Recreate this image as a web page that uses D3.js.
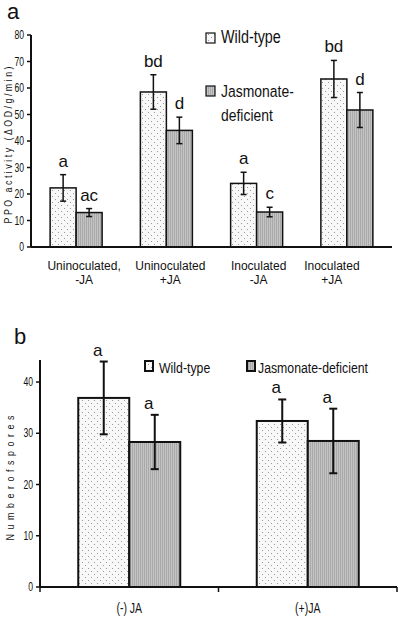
<!DOCTYPE html>
<html><head><meta charset="utf-8">
<script src="https://cdn.jsdelivr.net/npm/d3@7"></script>
<style>
html,body{margin:0;padding:0;background:#fff;}
svg{display:block;font-family:"Liberation Sans",Arial,sans-serif;}
</style></head>
<body>
<script>
// ---- Data: panel a ----
const categoriesA = [["Uninoculated,","-JA"],["Uninoculated","+JA"],["Inoculated","-JA"],["Inoculated","+JA"]];
const seriesNames = ["Wild-type","Jasmonate-deficient"];
const wildTypeA = [22.3, 58.5, 24.0, 63.4];
const wildTypeErrA = [5.0, 6.5, 4.2, 7.0];
const jasmonateA = [13.0, 44.0, 13.2, 51.7];
const jasmonateErrA = [1.5, 5.0, 1.8, 6.6];
const lettersWildA = ["a","bd","a","bd"];
const lettersJasA = ["ac","d","c","d"];
const ticksA = [0,10,20,30,40,50,60,70,80];

// ---- Data: panel b ----
const categoriesB = ["(-) JA","(+)JA"];
const wildTypeB = [36.9, 32.4];
const wildTypeErrB = [7.1, 4.2];
const jasmonateB = [28.3, 28.5];
const jasmonateErrB = [5.3, 6.3];
const lettersWildB = ["a","a"];
const lettersJasB = ["a","a"];
const ticksB = [0,10,20,30,40];

const W = 400, H = 620;
const svg = d3.select("body").append("svg").attr("width", W).attr("height", H);

// patterns
const defs = svg.append("defs");
const pDot = defs.append("pattern").attr("id","dots").attr("patternUnits","userSpaceOnUse")
  .attr("width",6).attr("height",6);
pDot.append("rect").attr("width",6).attr("height",6).attr("fill","#f8f8f8");
pDot.append("rect").attr("x",1).attr("y",1).attr("width",1).attr("height",1).attr("fill","#999");
pDot.append("rect").attr("x",4).attr("y",4).attr("width",1).attr("height",1).attr("fill","#999");
const pLine = defs.append("pattern").attr("id","lines").attr("patternUnits","userSpaceOnUse")
  .attr("width",2).attr("height",4);
pLine.append("rect").attr("width",2).attr("height",4).attr("fill","#c4c4c4");
pLine.append("rect").attr("x",0).attr("width",1).attr("height",4).attr("fill","#a9a9a9");

const fills = ["url(#dots)","url(#lines)"];

function narrowText(g, x, y, txt, size, sx, anchor){
  return g.append("text").attr("transform",`translate(${x},${y}) scale(${sx},1)`)
    .attr("font-size",size).attr("text-anchor",anchor||"start").attr("fill","#111").text(txt);
}

function panel(opts){
  const g = svg.append("g");
  const y = d3.scaleLinear().domain(opts.yDomain).range(opts.yRange);
  const x = d3.scaleBand().domain(d3.range(opts.n)).range(opts.xRange).paddingInner(0).paddingOuter(0);
  const bw = opts.barW;
  const series = [
    {vals: opts.wt, errs: opts.wtErr, letters: opts.lw, fill: fills[0], off: -bw},
    {vals: opts.jd, errs: opts.jdErr, letters: opts.lj, fill: fills[1], off: 0}
  ];
  // bars
  series.forEach(s=>{
    g.selectAll(null).data(s.vals).enter().append("rect")
      .attr("x",(d,i)=>x(i)+x.bandwidth()/2 + s.off)
      .attr("y",d=>y(d)).attr("width",bw).attr("height",d=>y(0)-y(d))
      .attr("fill",s.fill).attr("stroke","#111").attr("stroke-width",opts.barStroke);
  });
  // error bars
  series.forEach(s=>{
    s.vals.forEach((v,i)=>{
      const cx = x(i)+x.bandwidth()/2 + s.off + bw/2;
      const y1 = y(v + s.errs[i]), y2 = y(v - s.errs[i]);
      g.append("line").attr("x1",cx).attr("x2",cx).attr("y1",y1).attr("y2",y2)
        .attr("stroke","#111").attr("stroke-width",opts.errStroke);
      [y1,y2].forEach(yy=>g.append("line").attr("x1",cx-opts.cap).attr("x2",cx+opts.cap)
        .attr("y1",yy).attr("y2",yy).attr("stroke","#111").attr("stroke-width",opts.errStroke));
      g.append("text").attr("x",cx + opts.letterDx).attr("y",y1 - opts.letterGap)
        .attr("text-anchor","middle").attr("font-size",opts.letterSize).attr("fill","#111")
        .text(s.letters[i]);
    });
  });
  // y axis
  g.append("line").attr("x1",opts.xRange[0]).attr("x2",opts.xRange[0])
    .attr("y1",y(opts.yDomain[1])).attr("y2",y(0)).attr("stroke","#111").attr("stroke-width",2);
  opts.ticks.forEach(t=>{
    g.append("line").attr("x1",opts.xRange[0]-4).attr("x2",opts.xRange[0]).attr("y1",y(t)).attr("y2",y(t))
      .attr("stroke","#111").attr("stroke-width",1.5);
    narrowText(g, opts.xRange[0]-7, y(t)+4, String(t), 12, 0.72, "end");
  });
  // x axis
  g.append("line").attr("x1",opts.xRange[0]).attr("x2",opts.xRange[1]).attr("y1",y(0)).attr("y2",y(0))
    .attr("stroke","#111").attr("stroke-width",2);
  return {g,x,y};
}

// ---- Panel a ----
const A = panel({
  n:4, yDomain:[0,80], yRange:[247,35], xRange:[31,392], barW:26,
  wt:wildTypeA, wtErr:wildTypeErrA, jd:jasmonateA, jdErr:jasmonateErrA,
  lw:lettersWildA, lj:lettersJasA, ticks:ticksA,
  barStroke:1.5, errStroke:1.5, cap:3, letterGap:8, letterDx:0, letterSize:17
});
const labelShiftA = [8, 4, 2, -15];
categoriesA.forEach((lines,i)=>{
  const cx = A.x(i)+A.x.bandwidth()/2 + labelShiftA[i];
  lines.forEach((t,j)=>{
    A.g.append("text").attr("x",cx).attr("y",270 + j*14).attr("text-anchor","middle")
      .attr("font-size",12).attr("fill","#111").text(t);
  });
});
// y label a
A.g.append("text").attr("transform","translate(12,145) rotate(-90) scale(0.8,1)")
  .attr("text-anchor","middle").attr("font-size",11).attr("fill","#111")
  .attr("textLength",157/0.8).attr("lengthAdjust","spacing")
  .text("PPO activity (\u0394OD/g/min)");
// panel label
svg.append("text").attr("x",7).attr("y",19).attr("font-size",22).attr("fill","#111").text("a");
// legend a
A.g.append("rect").attr("x",206).attr("y",33).attr("width",9).attr("height",10)
  .attr("fill",fills[0]).attr("stroke","#111").attr("stroke-width",1.2);
narrowText(A.g, 221, 43, seriesNames[0], 17.5, 0.82);
A.g.append("rect").attr("x",206).attr("y",86).attr("width",9).attr("height",10)
  .attr("fill",fills[1]).attr("stroke","#111").attr("stroke-width",1.2);
narrowText(A.g, 221, 97, "Jasmonate-", 17, 0.82);
narrowText(A.g, 221, 121, "deficient", 17, 0.82);

// ---- Panel b ----
const B = panel({
  n:2, yDomain:[0,44.3], yRange:[587,360], xRange:[40,397], barW:51,
  wt:wildTypeB, wtErr:wildTypeErrB, jd:jasmonateB, jdErr:jasmonateErrB,
  lw:lettersWildB, lj:lettersJasB, ticks:ticksB,
  barStroke:2, errStroke:2, cap:4, letterGap:6, letterDx:-6, letterSize:17
});
// x ticks b
[0,1,2].forEach(i=>{
  const xx = 40 + i*(B.x.step());
  B.g.append("line").attr("x1",xx).attr("x2",xx).attr("y1",587).attr("y2",592)
    .attr("stroke","#111").attr("stroke-width",1.5);
});
categoriesB.forEach((t,i)=>{
  narrowText(B.g, B.x(i)+B.x.bandwidth()/2, 613, t, 14, 0.75, "middle");
});
B.g.append("text").attr("transform","translate(14,478) rotate(-90) scale(0.8,1)")
  .attr("text-anchor","middle").attr("font-size",11).attr("fill","#111")
  .attr("textLength",125/0.8).attr("lengthAdjust","spacing")
  .text("Numberofspores");
svg.append("text").attr("x",14).attr("y",344).attr("font-size",22).attr("fill","#111").text("b");
// legend b
B.g.append("rect").attr("x",145).attr("y",361).attr("width",8).attr("height",10)
  .attr("fill",fills[0]).attr("stroke","#111").attr("stroke-width",2);
narrowText(B.g, 159, 373, seriesNames[0], 15, 0.82);
B.g.append("rect").attr("x",247).attr("y",361).attr("width",8).attr("height",10)
  .attr("fill",fills[1]).attr("stroke","#111").attr("stroke-width",2);
narrowText(B.g, 258, 373, seriesNames[1], 15, 0.82);
</script>
</body></html>
